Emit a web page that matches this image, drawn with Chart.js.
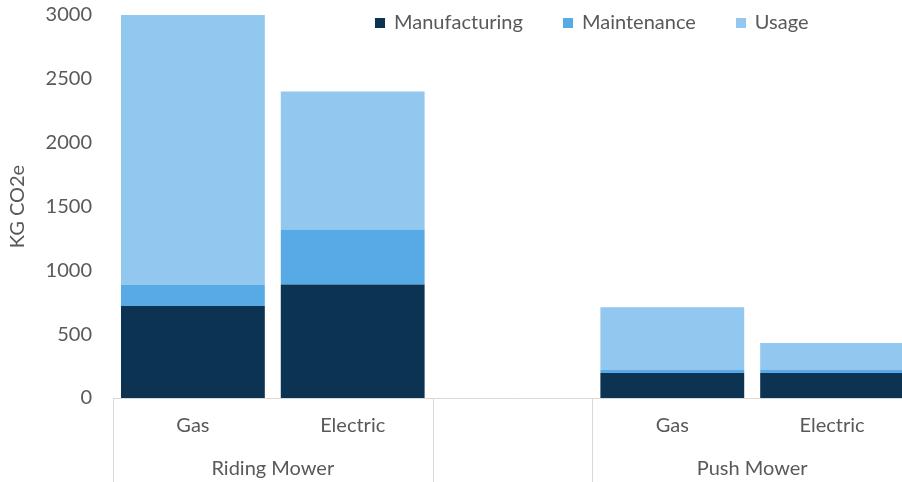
<!DOCTYPE html>
<html>
<head>
<meta charset="utf-8">
<script src="https://cdn.jsdelivr.net/npm/chart.js@4.4.1/dist/chart.umd.min.js"></script>
<style>
  html, body { margin: 0; padding: 0; background: #fff; overflow: hidden; }
  #wrap { position: relative; width: 912px; height: 482px; }
  #legend { position: absolute; top: 9px; left: 375px; font: 20px Lato, sans-serif; color: #595959; white-space: nowrap; }
  #legend span.item { display: inline-block; margin-right: 40px; }
  #legend span.box { display: inline-block; width: 10px; height: 10px; margin-right: 9px; vertical-align: 1px; }
</style>
</head>
<body>
<div id="wrap">
  <canvas id="chart" width="912" height="482"></canvas>
  <div id="legend"></div>
</div>
<script>
// categorias e grupos
var categories = ['Gas', 'Electric', '', 'Gas', 'Electric']
var groups = [
  { label: 'Riding Mower', from: 0, to: 1 },
  { label: 'Push Mower', from: 3, to: 4 }
]
// separadores do eixo (indice da categoria a direita da linha)
var separators = [0, 2, 3, 5]

// valores de cada serie (kg CO2e)
var manufacturing = [720, 890, null, 195, 195]
var maintenance = [165, 430, null, 25, 25]
var usage = [2115, 1080, null, 490, 210]

var seriesNames = ['Manufacturing', 'Maintenance', 'Usage']
var seriesColors = ['#0c3352', '#57aae6', '#92c7ef']

var yTicks = [0, 500, 1000, 1500, 2000, 2500, 3000]

var textColor = '#595959'
var font = 'Lato'

/** linhas separadoras e rotulos de grupo no eixo x */
var groupAxisPlugin = {
  id: 'groupAxis',
  afterDraw(chart) {
    var ctx = chart.ctx
    var x = chart.scales.x
    var half = (x.getPixelForValue(1) - x.getPixelForValue(0)) / 2
    var bottom = chart.chartArea.bottom
    ctx.save()
    ctx.strokeStyle = '#d9d9d9'
    ctx.lineWidth = 1
    // linha do eixo
    ctx.beginPath()
    ctx.moveTo(x.left, bottom + 0.5)
    ctx.lineTo(x.right, bottom + 0.5)
    ctx.stroke()
    // separadores verticais
    separators.forEach(function (i) {
      var px = Math.round(x.getPixelForValue(i) - half) + 0.5
      ctx.beginPath()
      ctx.moveTo(px, bottom)
      ctx.lineTo(px, chart.height)
      ctx.stroke()
    })
    // rotulos dos grupos
    ctx.fillStyle = textColor
    ctx.font = '20px ' + font
    ctx.textAlign = 'center'
    ctx.textBaseline = 'middle'
    groups.forEach(function (g) {
      var cx = (x.getPixelForValue(g.from) + x.getPixelForValue(g.to)) / 2
      ctx.fillText(g.label, cx, 469)
    })
    ctx.restore()
  }
}

var data = {
  labels: categories,
  datasets: [
    { label: seriesNames[0], data: manufacturing, backgroundColor: seriesColors[0] },
    { label: seriesNames[1], data: maintenance, backgroundColor: seriesColors[1] },
    { label: seriesNames[2], data: usage, backgroundColor: seriesColors[2] }
  ]
}

var options = {
  responsive: false,
  animation: false,
  layout: { padding: { top: 15, left: 0, right: 0, bottom: 0 } },
  datasets: { bar: { categoryPercentage: 1, barPercentage: 0.9 } },
  plugins: { legend: { display: false }, tooltip: { enabled: false } },
  scales: {
    x: {
      stacked: true,
      grid: { display: false, drawTicks: false },
      border: { display: false },
      ticks: { color: textColor, font: { family: font, size: 20 }, padding: 16, maxRotation: 0, autoSkip: false },
      afterFit: function (s) { s.height = 84; s.paddingLeft = 0; s.paddingRight = 0 }
    },
    y: {
      stacked: true,
      min: 0,
      max: 3000,
      grid: { display: false, drawTicks: false },
      border: { display: false },
      afterBuildTicks: function (s) { s.ticks = yTicks.map(function (v) { return { value: v } }) },
      ticks: { color: textColor, font: { family: font, size: 20 }, padding: 21, callback: function (v) { return String(v) } },
      title: { display: true, text: 'KG CO2e', color: textColor, font: { family: font, size: 20 }, padding: { top: 6, bottom: 0 } },
      afterFit: function (s) { s.width = 113; s.paddingTop = 0; s.paddingBottom = 0 }
    }
  }
}

new Chart('chart', { type: 'bar', data: data, options: options, plugins: [groupAxisPlugin] })

// legenda em html
var legend = document.getElementById('legend')
seriesNames.forEach(function (name, i) {
  var item = document.createElement('span')
  item.className = 'item'
  var box = document.createElement('span')
  box.className = 'box'
  box.style.background = seriesColors[i]
  item.appendChild(box)
  item.appendChild(document.createTextNode(name))
  legend.appendChild(item)
})
</script>
</body>
</html>
